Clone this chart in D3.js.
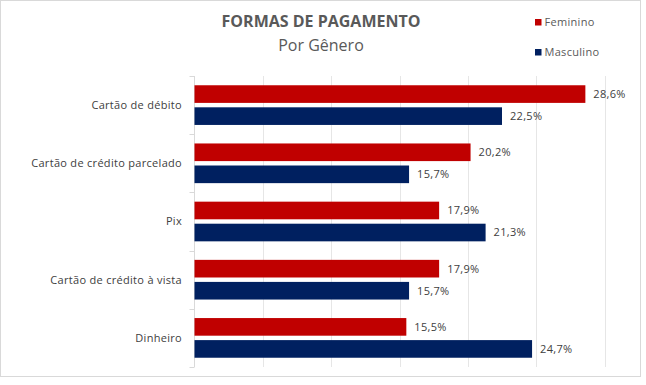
<!DOCTYPE html>
<html>
<head>
<meta charset="utf-8">
<script src="https://cdn.jsdelivr.net/npm/d3@7"></script>
<style>
  body { margin: 0; background: #fff; }
  text { font-family: "Open Sans", "Noto Sans", sans-serif; }
  .small { font-size: 11px; letter-spacing: 0.3px; }
</style>
</head>
<body>
<script>
const categories = ["Cartão de débito", "Cartão de crédito parcelado", "Pix", "Cartão de crédito à vista", "Dinheiro"];
const seriesNames = ["Feminino", "Masculino"];
const feminino = [28.6, 20.2, 17.9, 17.9, 15.5];
const masculino = [22.5, 15.7, 21.3, 15.7, 24.7];
const gridTicks = [0, 5, 10, 15, 20, 25, 30];
const colors = ["#c00000", "#002060"];

const chart = {
    width: 646,
    height: 385,
    plot: { left: 194.5, right: 604.5, top: 76, bottom: 367 }
}

let svg = d3.select("body")
    .append("svg")
    .attr("width", chart.width)
    .attr("height", chart.height);

// chart frame
svg.append("rect")
    .attr("x", 0.5).attr("y", 0.5)
    .attr("width", 640).attr("height", 376)
    .attr("fill", "#fff")
    .attr("stroke", "#d9d9d9");

let x = d3.scaleLinear()
    .domain([0, 30])
    .range([chart.plot.left, chart.plot.right]);

let y = d3.scaleBand()
    .domain(categories)
    .range([chart.plot.top, chart.plot.bottom]);

let y2 = d3.scaleBand()
    .domain(seriesNames)
    .range([0, y.bandwidth()])
    .paddingInner(0.2)
    .paddingOuter(0.42);

// vertical gridlines
svg.append("g")
    .selectAll("line")
    .data(gridTicks.slice(1))
    .enter()
    .append("line")
    .attr("x1", d => Math.round(x(d)) + 0.5)
    .attr("x2", d => Math.round(x(d)) + 0.5)
    .attr("y1", chart.plot.top)
    .attr("y2", chart.plot.bottom)
    .attr("stroke", "#e6e6e6");

// category axis with separators between groups
let yAxis = svg.append("g")
    .attr("transform", "translate(" + chart.plot.left + ",0)");
yAxis.append("line")
    .attr("x1", 0).attr("x2", 0)
    .attr("y1", chart.plot.top).attr("y2", chart.plot.bottom)
    .attr("stroke", "#d9d9d9");
yAxis.selectAll(".sep")
    .data(categories.concat(["end"]))
    .enter()
    .append("line")
    .attr("x1", -5).attr("x2", 0)
    .attr("y1", (d, i) => Math.round(chart.plot.top + i * y.step()) + 0.5)
    .attr("y2", (d, i) => Math.round(chart.plot.top + i * y.step()) + 0.5)
    .attr("stroke", "#d9d9d9");

svg.append("g")
    .selectAll("text")
    .data(categories)
    .enter()
    .append("text")
    .attr("class", "small")
    .attr("x", 182)
    .attr("y", d => y(d) + y.bandwidth() / 2)
    .attr("dy", "0.35em")
    .attr("text-anchor", "end")
    .attr("fill", "#404040")
    .text(d => d);

// bars
let rows = categories.map((c, i) => ({ cat: c, values: [feminino[i], masculino[i]] }));
let groups = svg.append("g")
    .selectAll("g")
    .data(rows)
    .enter()
    .append("g")
    .attr("transform", d => "translate(0," + y(d.cat) + ")");

let bars = groups.selectAll("g")
    .data(d => d.values.map((v, j) => ({ name: seriesNames[j], value: v, color: colors[j] })))
    .enter()
    .append("g");

bars.append("rect")
    .attr("x", x(0))
    .attr("y", d => y2(d.name))
    .attr("width", d => x(d.value) - x(0))
    .attr("height", y2.bandwidth())
    .attr("fill", d => d.color);

bars.append("text")
    .attr("class", "small")
    .attr("x", d => x(d.value) + 8)
    .attr("y", d => y2(d.name) + y2.bandwidth() / 2)
    .attr("dy", "0.35em")
    .attr("fill", "#404040")
    .text(d => d.value.toFixed(1).replace(".", ",") + "%");

// titles
svg.append("text")
    .attr("x", 321).attr("y", 27)
    .attr("text-anchor", "middle")
    .attr("font-size", "16px")
    .attr("font-weight", "bold")
    .attr("fill", "#595959")
    .text("FORMAS DE PAGAMENTO");

svg.append("text")
    .attr("x", 321).attr("y", 51)
    .attr("text-anchor", "middle")
    .attr("font-size", "16px")
    .attr("fill", "#595959")
    .text("Por Gênero");

// legend
let legend = svg.append("g")
    .selectAll("g")
    .data(seriesNames)
    .enter()
    .append("g")
    .attr("transform", (d, i) => "translate(535," + (19 + i * 30) + ")");
legend.append("rect")
    .attr("width", 6.5).attr("height", 6.5)
    .attr("fill", (d, i) => colors[i]);
legend.append("text")
    .attr("class", "small")
    .attr("x", 9.5).attr("y", 3.5)
    .attr("dy", "0.35em")
    .attr("fill", "#595959")
    .text(d => d);
</script>
</body>
</html>
